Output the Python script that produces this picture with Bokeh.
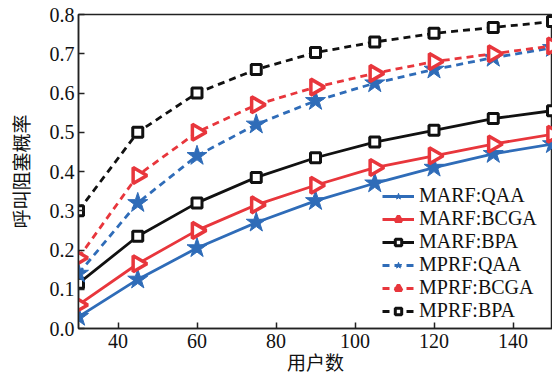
import numpy as np
from bokeh.plotting import figure
from bokeh.models import Range1d, FixedTicker, Legend, LegendItem, PrintfTickFormatter
from bokeh.embed import file_html
from bokeh.resources import INLINE

users = [30, 45, 60, 75, 90, 105, 120, 135, 150]
marf_qaa = [0.03, 0.125, 0.205, 0.27, 0.325, 0.37, 0.41, 0.445, 0.47]
marf_bcga = [0.06, 0.165, 0.25, 0.315, 0.365, 0.41, 0.44, 0.47, 0.495]
marf_bpa = [0.115, 0.235, 0.32, 0.385, 0.435, 0.475, 0.505, 0.535, 0.555]
mprf_qaa = [0.14, 0.32, 0.44, 0.52, 0.58, 0.625, 0.66, 0.69, 0.715]
mprf_bcga = [0.18, 0.39, 0.50, 0.57, 0.615, 0.65, 0.68, 0.70, 0.72]
mprf_bpa = [0.30, 0.50, 0.60, 0.66, 0.703, 0.73, 0.752, 0.767, 0.782]
x_ticks = [40, 60, 80, 100, 120, 140]
y_ticks = [0.0, 0.1, 0.2, 0.3, 0.4, 0.5, 0.6, 0.7, 0.8]
labels = ["MARF:QAA", "MARF:BCGA", "MARF:BPA", "MPRF:QAA", "MPRF:BCGA", "MPRF:BPA"]

BLUE = "#2f6cb8"
RED = "#e8363c"
BLACK = "#111111"
SERIF = "Liberation Serif, Noto Sans CJK SC"

p = figure(width=552, height=386, output_backend="svg", toolbar_location=None,
           x_range=Range1d(30, 150), y_range=Range1d(0, 0.8),
           min_border_left=78, min_border_right=0, min_border_top=14, min_border_bottom=58)
p.grid.visible = False
p.outline_line_color = "#222222"
p.outline_line_width = 1.5
p.background_fill_color = "white"

series = [
    (marf_qaa, BLUE, "solid", "star"),
    (marf_bcga, RED, "solid", "tri"),
    (marf_bpa, BLACK, "solid", "sq"),
    (mprf_qaa, BLUE, "dashed", "star"),
    (mprf_bcga, RED, "dashed", "tri"),
    (mprf_bpa, BLACK, "dashed", "sq"),
]

items = []
for (ys, col, dash, mk), lab in zip(series, labels):
    ld = "solid" if dash == "solid" else "7 5"
    r1 = p.line(users, ys, line_color=col, line_width=2.8, line_dash=ld)
    if mk == "star":
        r2 = p.scatter(users, ys, marker="star", size=21, fill_color=col, line_color=col)
    elif mk == "tri":
        r2 = p.scatter(users, ys, marker="triangle", angle=-90, angle_units="deg", size=16,
                       fill_color="white", line_color=col, line_width=3.5)
    else:
        r2 = p.scatter(users, ys, marker="square", size=10, fill_color="white",
                       line_color=col, line_width=3)
    items.append(LegendItem(label=lab, renderers=[r1, r2]))

legend = Legend(items=items, location=(304, 6), border_line_color=None,
                background_fill_alpha=0, label_text_font=SERIF, label_text_font_size="20px",
                label_text_color="#111111", glyph_width=32, glyph_height=16, spacing=-2,
                label_height=16, padding=2, margin=0, label_standoff=5)
p.add_layout(legend)

for ax in (p.xaxis[0], p.yaxis[0]):
    ax.major_tick_in = 6
    ax.major_tick_out = 0
    ax.minor_tick_line_color = None
    ax.axis_line_width = 1.5
    ax.axis_line_color = "#222222"
    ax.major_tick_line_color = "#222222"
    ax.major_tick_line_width = 1.5
    ax.major_label_text_font = SERIF
    ax.major_label_text_font_size = "20px"
    ax.major_label_text_color = "#111111"
    ax.axis_label_text_font = SERIF
    ax.axis_label_text_font_size = "19px"
    ax.axis_label_text_font_style = "normal"
    ax.axis_label_text_color = "#111111"

p.xaxis.ticker = FixedTicker(ticks=x_ticks)
p.yaxis.ticker = FixedTicker(ticks=y_ticks)
p.yaxis.formatter = PrintfTickFormatter(format="%.1f")
p.xaxis.axis_label = "用户数"
p.yaxis.axis_label = "呼叫阻塞概率"
p.xaxis.major_label_standoff = 5
p.yaxis.major_label_standoff = 4
p.xaxis.axis_label_standoff = 2
p.yaxis.axis_label_standoff = 14

open("out.html", "w").write(file_html(p, INLINE))
